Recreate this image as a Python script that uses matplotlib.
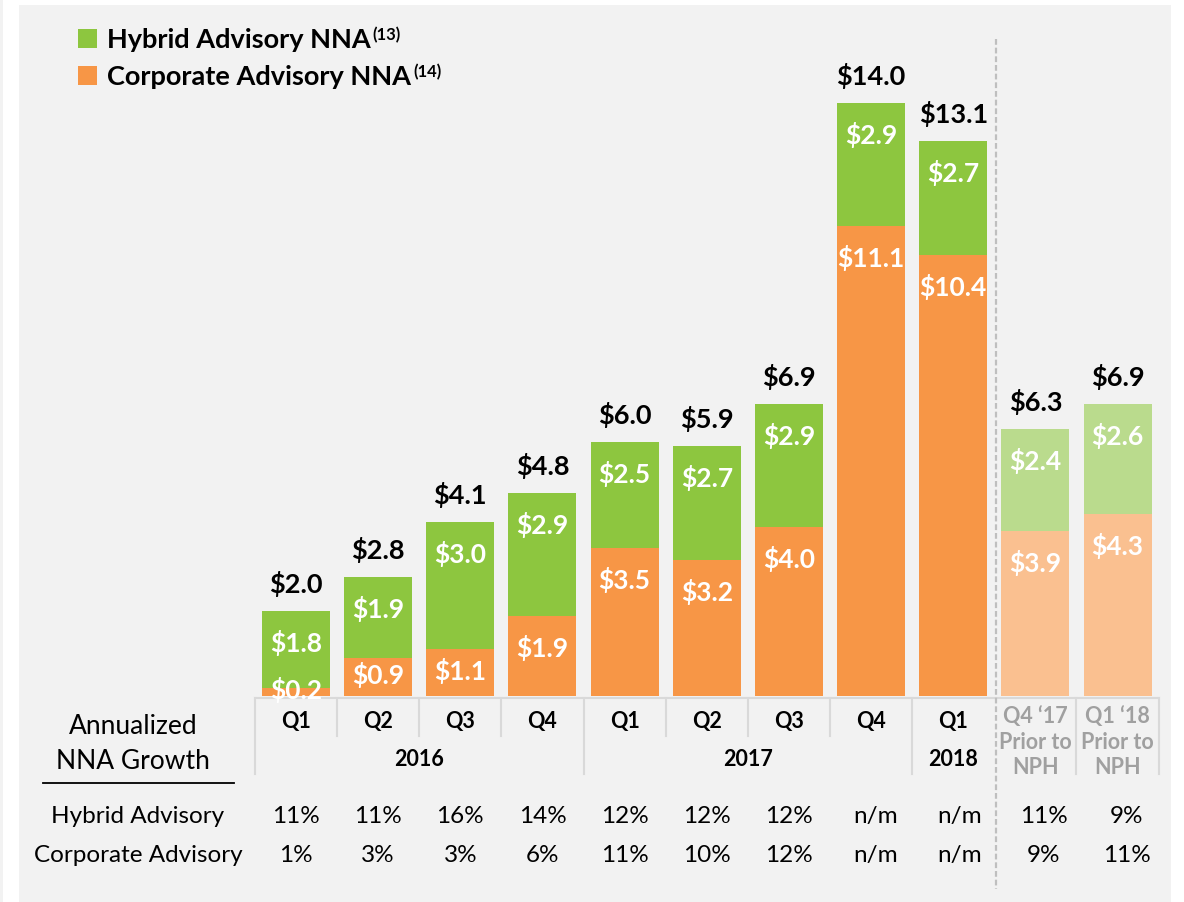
import matplotlib
matplotlib.use("Agg")
import matplotlib.pyplot as plt
from matplotlib.patches import Rectangle
import numpy as np

# ---------------- data ----------------
quarters = ["Q1", "Q2", "Q3", "Q4", "Q1", "Q2", "Q3", "Q4", "Q1"]
years = ["2016", "2017", "2018"]
year_centers = [1.5, 5.5, 8.0]
prior_labels = ["Q4 \u201817\nPrior to\nNPH", "Q1 \u201818\nPrior to\nNPH"]
hybrid = [1.8, 1.9, 3.0, 2.9, 2.5, 2.7, 2.9, 2.9, 2.7, 2.4, 2.6]
corporate = [0.2, 0.9, 1.1, 1.9, 3.5, 3.2, 4.0, 11.1, 10.4, 3.9, 4.3]
totals = [2.0, 2.8, 4.1, 4.8, 6.0, 5.9, 6.9, 14.0, 13.1, 6.3, 6.9]
hybrid_growth = ["11%", "11%", "16%", "14%", "12%", "12%", "12%", "n/m", "n/m", "11%", "9%"]
corporate_growth = ["1%", "3%", "3%", "6%", "11%", "10%", "12%", "n/m", "n/m", "9%", "11%"]
row_labels = ["Hybrid Advisory", "Corporate Advisory"]
table_title = ["Annualized", "NNA Growth"]
legend_labels = ["Hybrid Advisory NNA", "Corporate Advisory NNA"]
legend_notes = ["(13)", "(14)"]

# ---------------- style ----------------
GREEN, ORANGE = "#8DC63F", "#F79646"
LGREEN, LORANGE = "#BADB8D", "#FAC090"
PANEL = "#F2F2F2"
SEP = "#D9D9D9"
GRAYTXT = "#A0A0A0"
plt.rcParams["font.family"] = ["Lato", "DejaVu Sans"]

W, H = 1184, 903
X0, DX = 296.0, 82.15   # pixel of category 0, pixels per category
Y0, DY = 697.0, 42.36   # baseline pixel (from top), pixels per $bn

def px_x(p):
    return (p - X0) / DX

def px_y(p):
    return (Y0 - p) / DY

fig = plt.figure(figsize=(W / 100, H / 100), dpi=100)
fig.patch.set_facecolor("white")
fig.patches.append(Rectangle((19 / W, 0), (1171 - 19) / W, (H - 6) / H,
                             transform=fig.transFigure, facecolor=PANEL,
                             edgecolor="none", zorder=-10))
fig.patches.append(Rectangle((0, 0), 3 / W, 1, transform=fig.transFigure,
                             facecolor=PANEL, edgecolor="none", zorder=-10))

ax = fig.add_axes([0, 0, 1, 1])
ax.set_xlim(px_x(0), px_x(W))
ax.set_ylim(px_y(H), px_y(0))
ax.axis("off")
ax.patch.set_alpha(0)

n = len(totals)
x = np.arange(n)
width = 68 / DX
n_main = len(quarters)
corp_colors = [ORANGE] * n_main + [LORANGE] * (n - n_main)
hyb_colors = [GREEN] * n_main + [LGREEN] * (n - n_main)

ax.bar(x, corporate, width, color=corp_colors, linewidth=0, zorder=2)
ax.bar(x, hybrid, width, bottom=corporate, color=hyb_colors, linewidth=0, zorder=2)

inset = 31 / DY
for i in range(n):
    # total on top
    ax.annotate(f"${totals[i]:.1f}", (x[i], totals[i]), xytext=(0, 28),
                textcoords="offset pixels", ha="center", va="center",
                fontsize=19.5, fontweight="bold", color="black", zorder=4)
    # segment labels
    for base, val in ((0, corporate[i]), (corporate[i], hybrid[i])):
        top = base + val
        mid = base + val / 2
        yl = max(top - inset, mid + 0.07)
        ax.text(x[i], yl, f"${val:.1f}", ha="center", va="center",
                fontsize=19, fontweight="bold", color="white", zorder=4)

# ---------------- header grid ----------------
y_top = px_y(699)
y_short = px_y(737)
y_long = px_y(775)
ax.plot([-0.5, n - 0.5], [y_top, y_top], color=SEP, lw=1.5, zorder=3)
long_bounds = [-0.5, 3.5, 7.5, 9.5, 10.5]
for b in np.arange(-0.5, n, 1.0):
    if abs(b - 8.5) < 1e-6:
        continue
    yb = y_long if any(abs(b - lb) < 1e-6 for lb in long_bounds) else y_short
    ax.plot([b, b], [y_top, yb], color=SEP, lw=1.5, zorder=3)

# dashed divider
ax.plot([8.5 + 1.5 / DX, 8.5 + 1.5 / DX], [px_y(40), px_y(890)], color="#BFBFBF",
        lw=1.6, linestyle=(0, (2.6, 1.3)), zorder=3)

for i, q in enumerate(quarters):
    ax.text(x[i], px_y(722), q, ha="center", va="center", fontsize=15.5,
            fontweight="bold", color="black")
for yc, yr in zip(year_centers, years):
    ax.text(yc, px_y(760), yr, ha="center", va="center", fontsize=15.5,
            fontweight="bold", color="black")
for k, lab in enumerate(prior_labels):
    for j, line in enumerate(lab.split("\n")):
        ax.text(x[n_main + k], px_y(717 + 25.5 * j), line, ha="center",
                va="center", fontsize=15.5, fontweight="bold", color=GRAYTXT)

# ---------------- growth table ----------------
for j, t in enumerate(table_title):
    ax.text(px_x(133), px_y(727 + 35 * j), t, ha="center", va="center",
            fontsize=19, color="black")
ax.plot([px_x(43), px_x(234)], [px_y(784), px_y(784)], color="black", lw=1.3)

col_shift = [0, 0, 0, 0, 0, 0, 0, 0.06, 0.08, 0.1, 0.11]
for r, (lab, vals) in enumerate(zip(row_labels, [hybrid_growth, corporate_growth])):
    yy = px_y(817 + 39 * r)
    ax.text(px_x(138), yy, lab, ha="center", va="center", fontsize=17.5,
            color="black")
    for i, v in enumerate(vals):
        ax.text(x[i] + col_shift[i], yy, v, ha="center", va="center",
                fontsize=17.5, color="black")

# ---------------- legend ----------------
fig.canvas.draw()
renderer = fig.canvas.get_renderer()
for k, (lab, note, col) in enumerate(zip(legend_labels, legend_notes, [GREEN, ORANGE])):
    top_px = 30 + 37 * k
    ax.add_patch(Rectangle((px_x(78), px_y(top_px + 19)), 19 / DX, 19 / DY,
                           facecolor=col, edgecolor="none", zorder=3))
    t = ax.text(px_x(107), px_y(top_px + 10), lab, ha="left", va="center",
                fontsize=19.5, fontweight="bold", color="black")
    bb = t.get_window_extent(renderer=renderer)
    ax.text(px_x(bb.x1 + 2), px_y(top_px + 5), note, ha="left", va="center",
            fontsize=12, fontweight="bold", color="black")

fig.savefig("out.png", dpi=100, facecolor=fig.get_facecolor())
